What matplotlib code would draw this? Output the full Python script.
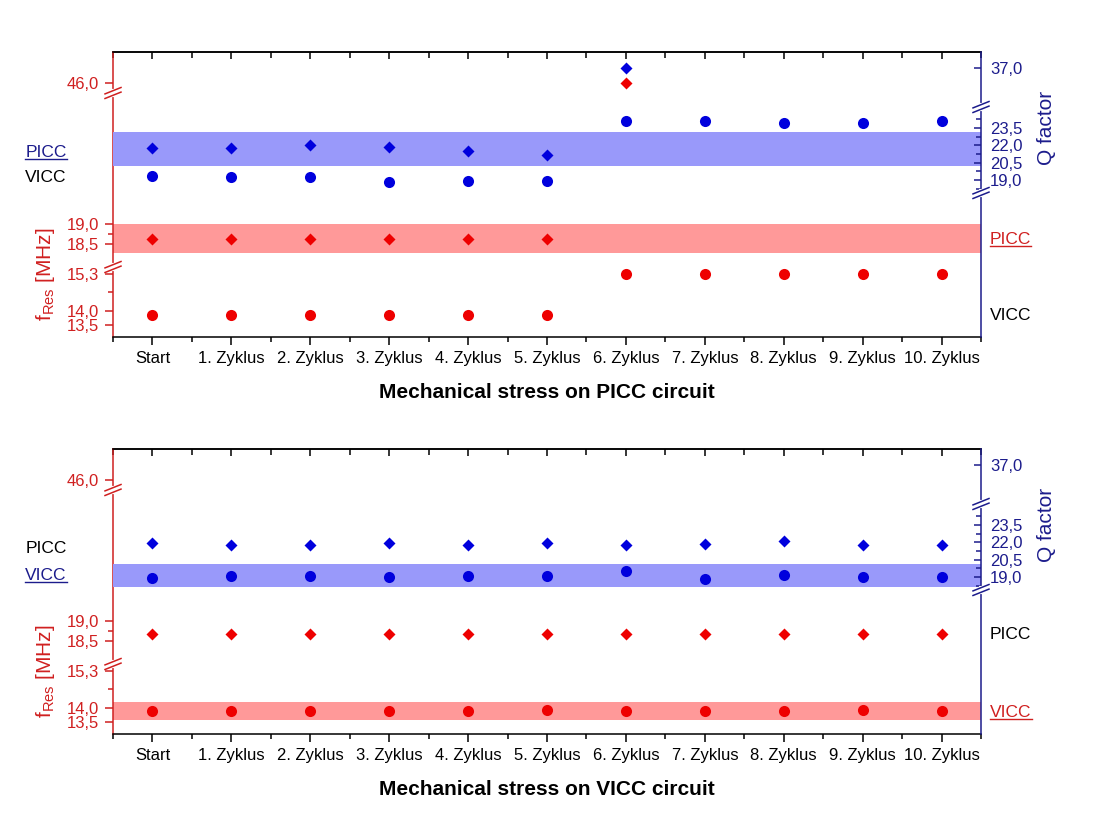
import numpy as np
import matplotlib
matplotlib.use("Agg")
import matplotlib.pyplot as plt
from matplotlib.lines import Line2D
from matplotlib.transforms import blended_transform_factory

plt.rcParams['font.family'] = ['Liberation Sans', 'DejaVu Sans']
plt.rcParams['mathtext.fontset'] = 'custom'
plt.rcParams['mathtext.rm'] = 'Liberation Sans'

categories = ['Start', '1. Zyklus', '2. Zyklus', '3. Zyklus', '4. Zyklus', '5. Zyklus',
              '6. Zyklus', '7. Zyklus', '8. Zyklus', '9. Zyklus', '10. Zyklus']
nan = np.nan

# stress on PICC circuit
picc_f_1 = [18.62, 18.62, 18.62, 18.62, 18.62, 18.62, 46.0, nan, nan, nan, nan]
vicc_f_1 = [13.85, 13.85, 13.85, 13.85, 13.85, 13.85, 15.3, 15.3, 15.3, 15.3, 15.3]
picc_q_1 = [21.8, 21.8, 22.0, 21.9, 21.5, 21.2, 37.0, nan, nan, nan, nan]
vicc_q_1 = [19.35, 19.26, 19.26, 18.83, 18.9, 18.95, 24.1, 24.1, 23.93, 23.93, 24.1]
f_band_1 = (18.28, 19.0)
q_band_1 = (20.21, 23.15)

# stress on VICC circuit
picc_f_2 = [18.67, 18.67, 18.67, 18.67, 18.67, 18.67, 18.67, 18.67, 18.67, 18.67, 18.67]
vicc_f_2 = [13.89, 13.89, 13.9, 13.89, 13.89, 13.92, 13.89, 13.9, 13.89, 13.92, 13.9]
picc_q_2 = [21.94, 21.77, 21.77, 21.94, 21.77, 21.94, 21.77, 21.85, 22.11, 21.77, 21.77]
vicc_q_2 = [18.91, 19.09, 19.09, 19.0, 19.09, 19.09, 19.52, 18.83, 19.17, 19.0, 19.0]
f_band_2 = (13.57, 14.21)
q_band_2 = (18.13, 20.12)

f_ticks = [13.5, 14.0, 15.3, 18.5, 19.0, 46.0]
f_ticklabels = ['13,5', '14,0', '15,3', '18,5', '19,0', '46,0']
q_ticks = [19.0, 20.5, 22.0, 23.5, 37.0]
q_ticklabels = ['19,0', '20,5', '22,0', '23,5', '37,0']

RED = '#EE0000'
BLUE = '#0000DD'
RED_AX = '#D02020'
BLUE_AX = '#1C1C8C'
RED_BAND = '#FF9999'
BLUE_BAND = '#9999FA'

# broken axis scales: value -> pixel height inside axes (285 px tall)
f_vals = [13.076, 15.547, 17.925, 22.275, 45.0, 49.1]
f_pix = [0, 70, 70.001, 244, 244.001, 285]
q_vals = [0.0, 17.874, 17.875, 25.32, 33.1, 38.6]
q_pix = [0, 143.999, 144, 230, 230.001, 285]


def f_fwd(v):
    return np.interp(v, f_vals, f_pix)


def f_inv(p):
    return np.interp(p, f_pix, f_vals)


def q_fwd(v):
    return np.interp(v, q_vals, q_pix)


def q_inv(p):
    return np.interp(p, q_pix, q_vals)


def draw_break(ax, xa, u, color):
    dx = 8 / 868
    dy = 3.2 / 285
    g = 2.3 / 285
    ax.plot([xa, xa], [u - g, u + g], color='white', lw=3, transform=ax.transAxes,
            clip_on=False, zorder=10)
    for off in (-g, g):
        ax.plot([xa - dx, xa + dx], [u + off - dy, u + off + dy], color=color, lw=1.1,
                transform=ax.transAxes, clip_on=False, zorder=11)


fig = plt.figure(figsize=(11.12, 8.32), dpi=100)
underlined = []


def panel(top_px, xlabel, picc_f, vicc_f, picc_q, vicc_q, f_band, q_band, lab):
    x = np.arange(len(categories))
    ax = fig.add_axes([113 / 1112, 1 - (top_px + 285) / 832, 868 / 1112, 285 / 832])
    ax.set_yscale('function', functions=(f_fwd, f_inv))
    ax.set_ylim(f_vals[0], f_vals[-1])
    ax.set_xlim(-0.5, 10.5)
    ax.axhspan(f_band[0], f_band[1], color=RED_BAND, lw=0, zorder=1)
    ax.plot(x, vicc_f, 'o', color=RED, ms=8, mec='none', zorder=3)
    ax.plot(x, picc_f, 'D', color=RED, ms=6.2, mec='none', zorder=3)

    ax.set_yticks(f_ticks, labels=f_ticklabels)
    ax.set_yticks([14.65, 18.75], minor=True)
    ax.tick_params(axis='y', which='both', direction='out', colors=RED_AX, labelsize=12,
                   width=1.1, pad=4)
    ax.tick_params(axis='y', which='major', length=6)
    ax.tick_params(axis='y', which='minor', length=3.5)
    ax.spines['left'].set_color(RED_AX)
    ax.spines['right'].set_visible(False)
    for s in ['left', 'top', 'bottom']:
        ax.spines[s].set_linewidth(1.1)

    ax.set_xticks(x, labels=categories)
    ax.set_xticks(np.arange(-0.5, 11, 1.0), minor=True)
    ax.tick_params(axis='x', which='both', direction='out', labelsize=12, width=1.1, pad=4)
    ax.tick_params(axis='x', which='major', length=6)
    ax.tick_params(axis='x', which='minor', length=3.5)
    ax.set_xlabel(xlabel, fontsize=15, fontweight='bold', labelpad=12)

    sec = ax.secondary_xaxis('top')
    sec.set_xticks(x)
    sec.set_xticks(np.arange(-0.5, 11, 1.0), minor=True)
    sec.tick_params(axis='x', which='both', direction='in', labeltop=False, width=1.1)
    sec.tick_params(axis='x', which='major', length=5)
    sec.tick_params(axis='x', which='minor', length=4)
    sec.spines['top'].set_linewidth(1.1)

    ax2 = ax.twinx()
    ax2.set_yscale('function', functions=(q_fwd, q_inv))
    ax2.set_ylim(q_vals[0], q_vals[-1])
    ax2.axhspan(q_band[0], q_band[1], color=BLUE_BAND, lw=0, zorder=1)
    ax2.plot(x, vicc_q, 'o', color=BLUE, ms=8, mec='none', zorder=3)
    ax2.plot(x, picc_q, 'D', color=BLUE, ms=6.2, mec='none', zorder=3)
    ax2.set_yticks(q_ticks, labels=q_ticklabels)
    ax2.set_yticks([18.25, 19.75, 21.25, 22.75, 24.25], minor=True)
    ax2.tick_params(axis='y', which='both', direction='in', colors=BLUE_AX, labelsize=12,
                    width=1.1, pad=6.5)
    ax2.tick_params(axis='y', which='major', length=5)
    ax2.tick_params(axis='y', which='minor', length=3.5)
    ax2.spines['right'].set_color(BLUE_AX)
    ax2.spines['right'].set_linewidth(1.1)
    for s in ['left', 'top', 'bottom']:
        ax2.spines[s].set_visible(False)

    draw_break(ax, 0, f_pix[1] / 285, RED_AX)
    draw_break(ax, 0, f_pix[3] / 285, RED_AX)
    draw_break(ax2, 1, q_pix[2] / 285, BLUE_AX)
    draw_break(ax2, 1, q_pix[3] / 285, BLUE_AX)

    ax.text(-0.078, 0.22, r'f$_{\mathregular{Res}}$ [MHz]', transform=ax.transAxes,
            rotation=90, ha='center', va='center', fontsize=15, color=RED_AX)
    ax2.text(1.076, 0.733, 'Q factor', transform=ax2.transAxes, rotation=90,
             ha='center', va='center', fontsize=15, color=BLUE_AX)

    tl = blended_transform_factory(ax.transAxes, ax2.transData)
    tr = blended_transform_factory(ax.transAxes, ax.transData)
    for text, yv, col, ul in lab['left']:
        t = ax.text(-0.101, yv, text, transform=tl, ha='left', va='center', fontsize=12.5,
                    color=col)
        if ul:
            underlined.append((t, col))
    for text, yv, col, ul in lab['right']:
        t = ax.text(1.0104, yv, text, transform=tr, ha='left', va='center', fontsize=12.5,
                    color=col)
        if ul:
            underlined.append((t, col))


panel(52, 'Mechanical stress on PICC circuit', picc_f_1, vicc_f_1, picc_q_1, vicc_q_1,
      f_band_1, q_band_1,
      {'left': [('PICC', 21.42, BLUE_AX, True), ('VICC', 19.26, 'black', False)],
       'right': [('PICC', 18.6, RED_AX, True), ('VICC', 13.85, 'black', False)]})
panel(449, 'Mechanical stress on VICC circuit', picc_f_2, vicc_f_2, picc_q_2, vicc_q_2,
      f_band_2, q_band_2,
      {'left': [('PICC', 21.5, 'black', False), ('VICC', 19.09, BLUE_AX, True)],
       'right': [('PICC', 18.65, 'black', False), ('VICC', 13.85, RED_AX, True)]})

fig.canvas.draw()
renderer = fig.canvas.get_renderer()
inv = fig.transFigure.inverted()
for t, col in underlined:
    bb = t.get_window_extent(renderer)
    (x0, y0), (x1, _) = inv.transform([(bb.x0, bb.y0 + 1), (bb.x1, bb.y0 + 1)])
    fig.add_artist(Line2D([x0, x1], [y0, y0], color=col, lw=1.0, transform=fig.transFigure))

fig.savefig('out.png', dpi=100)
